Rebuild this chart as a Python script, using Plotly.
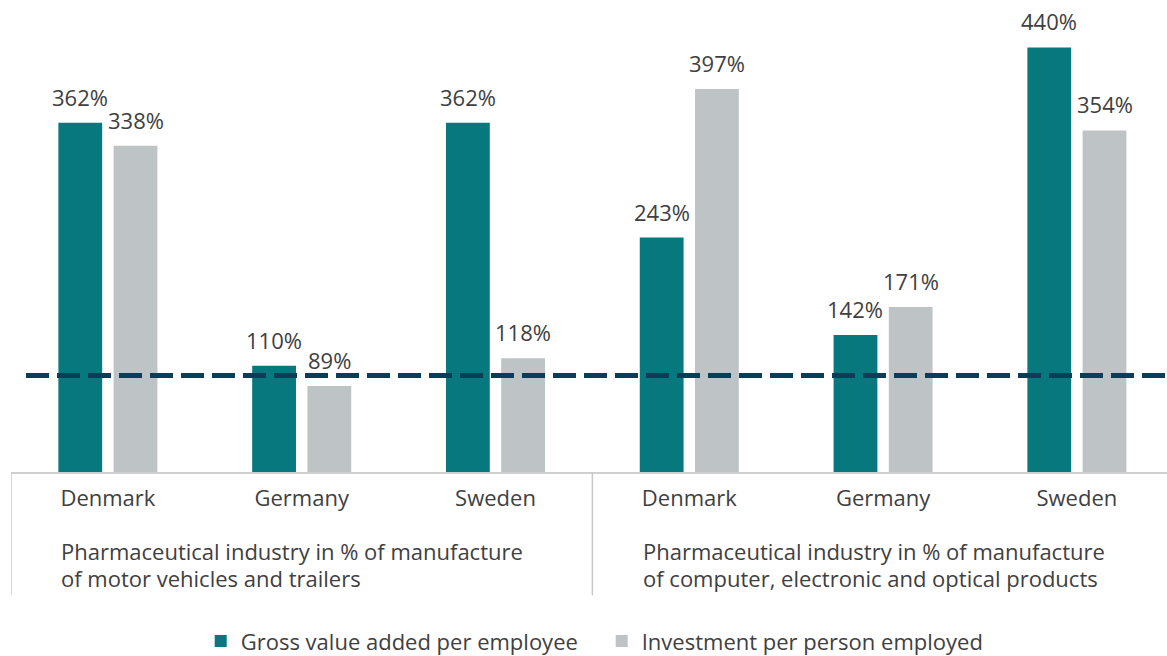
import plotly.graph_objects as go

countries = ["Denmark", "Germany", "Sweden", "Denmark", "Germany", "Sweden"]
gva = [362, 110, 362, 243, 142, 440]
invest = [338, 89, 118, 397, 171, 354]
series_names = ["Gross value added per employee", "Investment per person employed"]
group_label_lines = [
    ["Pharmaceutical industry in % of manufacture", "of motor vehicles and trailers"],
    ["Pharmaceutical industry in % of manufacture", "of computer, electronic and optical products"],
]
reference_level = 100

TEAL = "#06787e"
GRAY = "#bec3c5"
TEXT = "#404040"
DASH = "#0b3d56"
FONT = "Open Sans"
FS = 22

W, H = 1167, 656
ML, MT = 11, 0
plot_bottom = 472.5
plot_h = plot_bottom - MT
MB = H - MT - plot_h
cat_px = 193.8
x_min = -0.5
x_max = x_min + (W - ML) / cat_px
y_max = plot_h / 0.966

bargap = 0.43
bargroupgap = 0.207
slot = (1 - bargap) / 2

xs = list(range(len(countries)))

fig = go.Figure()
fig.add_trace(go.Bar(x=xs, y=gva, name=series_names[0], marker=dict(color=TEAL, line=dict(width=0))))
fig.add_trace(go.Bar(x=xs, y=invest, name=series_names[1], marker=dict(color=GRAY, line=dict(width=0))))

annotations = []
for i in xs:
    for vals, off in ((gva, -slot / 2), (invest, slot / 2)):
        annotations.append(dict(
            x=i + off, y=vals[i], xref="x", yref="y", text=f"{vals[i]}%",
            showarrow=False, yanchor="bottom", xanchor="center", yshift=9,
            font=dict(family=FONT, size=FS, color=TEXT),
        ))

line_centers = [551, 578]
for g, lines in enumerate(group_label_lines):
    for k, txt in enumerate(lines):
        annotations.append(dict(
            x=x_min + g * 3 + 0.25, y=0, xref="x", yref="paper", text=txt,
            showarrow=False, xanchor="left", yanchor="middle",
            yshift=-(line_centers[k] - plot_bottom), align="left",
            font=dict(family=FONT, size=FS, color=TEXT),
        ))

shapes = []
sep_bottom = -(596 - plot_bottom) / plot_h
for xv in (x_min, x_min + 3):
    shapes.append(dict(type="line", xref="x", yref="paper", x0=xv, x1=xv, y0=0, y1=sep_bottom,
                       line=dict(color="#c8c8c8", width=1.5)))
shapes.append(dict(type="line", xref="paper", yref="y", x0=(26 - ML) / (W - ML), x1=1,
                   y0=reference_level, y1=reference_level, layer="above",
                   line=dict(color=DASH, width=5, dash="23px,8px")))

fig.update_layout(
    width=W, height=H,
    margin=dict(l=ML, r=0, t=MT, b=MB, pad=0, autoexpand=False),
    paper_bgcolor="white", plot_bgcolor="white",
    barmode="group", bargap=bargap, bargroupgap=bargroupgap,
    font=dict(family=FONT, size=FS, color=TEXT),
    xaxis=dict(range=[x_min, x_max], tickmode="array", tickvals=xs, ticktext=countries,
               showgrid=False, zeroline=False, showline=True, linecolor="#d0d0d0", linewidth=2,
               ticks="outside", ticklen=6, tickcolor="rgba(0,0,0,0)", automargin=False,
               tickfont=dict(family=FONT, size=FS, color=TEXT)),
    yaxis=dict(range=[0, y_max], visible=False, showgrid=False, zeroline=False, automargin=False),
    legend=dict(orientation="h", x=0.511, xanchor="center", y=-(642 - plot_bottom) / plot_h,
                yanchor="middle", font=dict(family=FONT, size=FS, color=TEXT), itemwidth=30,
                entrywidth=356, traceorder="normal"),
    annotations=annotations,
    shapes=shapes,
)

fig.write_html("out.html", config={"displayModeBar": False},
               post_script="document.body.style.margin='0px';")
